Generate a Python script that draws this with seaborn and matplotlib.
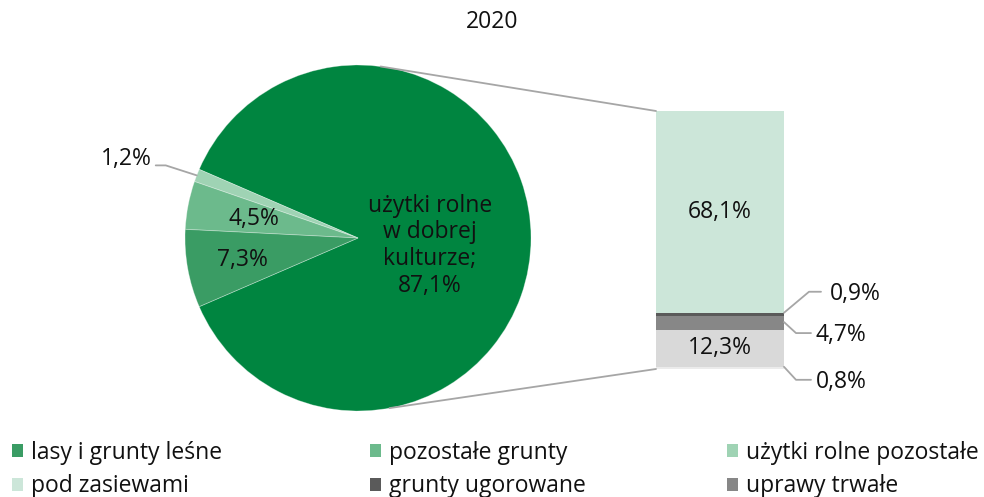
import numpy as np
import pandas as pd
import matplotlib
matplotlib.use("Agg")
import matplotlib.pyplot as plt
import seaborn as sns
from matplotlib.patches import ConnectionPatch, Patch
from matplotlib.lines import Line2D
from matplotlib.transforms import IdentityTransform

# ---------------- data ----------------
title = "2020"
pie_labels = ["użytki rolne w dobrej kulturze", "użytki rolne pozostałe",
              "pozostałe grunty", "lasy i grunty leśne"]
pie_values = [87.1, 1.2, 4.5, 7.3]
pie_texts = ["użytki rolne\nw dobrej\nkulturze;\n87,1%", "1,2%", "4,5%", "7,3%"]
pie_colors = ["#008540", "#9fd3b4", "#6cba8c", "#3a9c64"]

bar_labels = ["ogrody przydomowe", "łąki i pastwiska trwałe", "uprawy trwałe",
              "grunty ugorowane", "pod zasiewami"]          # bottom -> top
bar_values = [0.8, 12.3, 4.7, 0.9, 68.1]
bar_texts = ["0,8%", "12,3%", "4,7%", "0,9%", "68,1%"]
bar_colors = ["#ebebeb", "#d9d9d9", "#878787", "#5a5a5a", "#cce6d9"]

legend_cols = [["lasy i grunty leśne", "pod zasiewami"],
               ["pozostałe grunty", "grunty ugorowane"],
               ["użytki rolne pozostałe", "uprawy trwałe"]]
legend_colors = {"lasy i grunty leśne": "#3a9c64", "pozostałe grunty": "#6cba8c",
                 "użytki rolne pozostałe": "#9fd3b4", "pod zasiewami": "#cce6d9",
                 "grunty ugorowane": "#5a5a5a", "uprawy trwałe": "#878787"}

# ---------------- style ----------------
sns.set_theme(style="white")
plt.rcParams["font.family"] = ["Open Sans", "DejaVu Sans"]
TXT = "#111111"
FS = 16.5
LINE = "#a6a6a6"

W, H = 984, 497
fig = plt.figure(figsize=(W / 100, H / 100), dpi=100)

def px_axes(x0, y0, x1, y1):
    return fig.add_axes([x0 / W, 1 - y1 / H, (x1 - x0) / W, (y1 - y0) / H])

fig.text(492 / W, 1 - 22 / H, title, ha="center", va="center", fontsize=FS, color=TXT)

# ---------------- pie ----------------
cx, cy, R = 358, 238, 173
ax_pie = px_axes(cx - R, cy - R, cx + R, cy + R)
total_pie = sum(pie_values)
start = -pie_values[0] / total_pie * 360 / 2
wedges, _ = ax_pie.pie(pie_values, colors=pie_colors, startangle=start,
                       counterclock=True, radius=1,
                       wedgeprops=dict(linewidth=0.6, edgecolor=(1, 1, 1, 0.35)))
ax_pie.set_xlim(-1, 1)
ax_pie.set_ylim(-1, 1)
ax_pie.set_aspect("equal")
ax_pie.axis("off")

# wedge mid-angles
angles = []
acc = start
for v in pie_values:
    span = v / total_pie * 360
    angles.append(np.deg2rad(acc + span / 2))
    acc += span

ax_pie.text(0.416, -0.045, pie_texts[0], ha="center", va="center",
            fontsize=FS, color=TXT, linespacing=1.15)
for i, r in [(2, 0.61), (3, 0.68)]:
    ax_pie.text(r * np.cos(angles[i]), r * np.sin(angles[i]) - 0.005, pie_texts[i],
                ha="center", va="center", fontsize=FS, color=TXT)

# leader for small wedge
p0 = ax_pie.transData.transform((np.cos(angles[1]), np.sin(angles[1])))
pts = np.array([p0, p0 + [-31, 10], p0 + [-41, 10]])
fig.add_artist(Line2D(pts[:, 0], pts[:, 1], transform=IdentityTransform(),
                      color=LINE, lw=1.3))
fig.text(*(p0 + [-45, 16]), pie_texts[1], transform=IdentityTransform(),
         ha="right", va="center", fontsize=FS, color=TXT)

# ---------------- stacked bar ----------------
ax_bar = px_axes(656, 111, 784, 369)
cum = np.cumsum(bar_values)
total_bar = cum[-1]
# draw layers from tallest cumulative to shortest
for i in range(len(bar_values) - 1, -1, -1):
    df = pd.DataFrame({"cat": [""], "val": [cum[i]]})
    sns.barplot(data=df, x="cat", y="val", color=bar_colors[i], saturation=1,
                width=1, ax=ax_bar, linewidth=0)
ax_bar.set_xlim(-0.5, 0.5)
ax_bar.set_ylim(0, total_bar)
ax_bar.axis("off")

centers = cum - np.array(bar_values) / 2
for i in (1, 4):
    ax_bar.text(0, centers[i], bar_texts[i], ha="center", va="center",
                fontsize=FS, color=TXT)

leaders = {3: ([0, 2], [25, 23], [37, 23], [46, 21]),
           2: ([0, 1], [12, -10], [27, -10], [32, -12]),
           0: ([0, 1], [12, -12], [27, -12], [32, -14])}
for i, (o0, o1, o2, ot) in leaders.items():
    b = ax_bar.transData.transform((0.5, centers[i]))
    pts = np.array([b + o0, b + o1, b + o2])
    fig.add_artist(Line2D(pts[:, 0], pts[:, 1], transform=IdentityTransform(),
                          color=LINE, lw=1.3))
    fig.text(*(b + ot), bar_texts[i], transform=IdentityTransform(),
             ha="left", va="center", fontsize=FS, color=TXT)

# ---------------- connectors pie -> bar ----------------
for ang, ybar in [(82.5, total_bar), (-79.5, 0)]:
    a = np.deg2rad(ang)
    con = ConnectionPatch(xyA=(np.cos(a), np.sin(a)), coordsA=ax_pie.transData,
                          xyB=(-0.5, ybar), coordsB=ax_bar.transData,
                          color=LINE, lw=1.3)
    fig.add_artist(con)

# ---------------- legend ----------------
for col_x, items in zip([12, 370, 727], legend_cols):
    handles = [Patch(facecolor=legend_colors[n], edgecolor="none", label=n) for n in items]
    fig.legend(handles=handles, loc="upper left",
               bbox_to_anchor=(col_x / W, 1 - 441 / H), frameon=False,
               fontsize=FS, handlelength=0.5, handleheight=0.5,
               handletextpad=0.35, labelspacing=0.4, borderpad=0,
               borderaxespad=0, labelcolor=TXT)

fig.savefig("out.png", dpi=100)
